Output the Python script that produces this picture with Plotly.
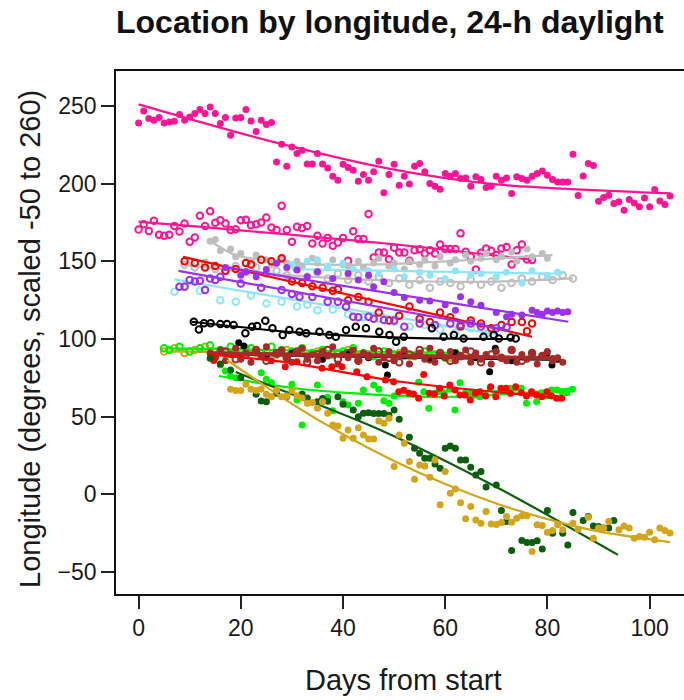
import plotly.graph_objects as go

# ---------------- data ----------------
pink_f_x = list(range(0, 105))
pink_f_y = [239.1, 246.8, 241.9, 240.8, 242.5, 239, 239.7, 240.2, 244.5, 240.8, 242.9, 245.1, 247.7, 245.1, 249.4,
            245.1, 238.7, 242.5, 231.2, 242.3, 242.5, 247.7, 240.4, 233.5, 240.8, 238, 239.3, 214, 225.4, 211.2,
            223.6, 219.4, 221.5, 212.7, 212.7, 219.4, 212.7, 210.1, 204.8, 202.2, 212.5, 210.4, 208.7, 201.6, 205.9,
            202.2, 207.6, 214.4, 194.1, 205.9, 212.5, 199, 204.8, 199.7, 211.2, 213, 207.6, 200.1, 198.4, 196.4,
            206.5, 204.8, 206.5, 203.3, 203.7, 198.4, 204.4, 202.7, 197.5, 198.4, 204.8, 202.2, 203.7, 193.7, 204.4,
            203.3, 202.2, 204.8, 206.5, 208.2, 205.4, 202.7, 201.1, 201.1, 201.1, 218.9, 192.4, 205, 213, 211.7,
            188.7, 191.1, 192.6, 187.2, 188.3, 182.9, 189.8, 187.6, 185.1, 190.8, 185.1, 196.3, 188.9, 186.6, 192.1]
pink_f_fit_x = [0, 25, 50, 70, 104]
pink_f_fit_y = [251, 228, 209, 199.5, 193.7]

pink_o_x = list(range(0, 78))
pink_o_y = [170.5, 173.9, 169.6, 176.1, 167.1, 166.4, 167.1, 172.8, 169.2, 174.4, 162.6, 165.4, 179.3, 172.8, 182.3,
            174.8, 176.5, 174.4, 170.1, 170.7, 176.5, 176.7, 173.3, 173.9, 175, 178.2, 171.8, 170.1, 185.7, 170.1,
            162.6, 172.2, 171.4, 172.8, 161.5, 166.4, 161.5, 165.1, 160, 162.2, 165.1, 150.3, 169.4, 164.3, 164.3,
            180.4, 152.5, 155.7, 155.7, 151.4, 158.7, 155.7, 155.7, 150.3, 157.2, 157.7, 155.1, 157.2, 155.1, 160.9,
            157.9, 157.9, 157.9, 168, 156.1, 152.9, 144.8, 155.5, 158.3, 156.8, 154, 158.3, 159.3, 148, 157.2, 160.9,
            151.2, 150.8]
pink_o_fit_x = [0, 50, 77]
pink_o_fit_y = [175.5, 161, 151]

gray_f_x = [14, 15, 16, 18, 19, 20, 22, 23, 25, 26, 28, 29, 31, 32, 34, 35, 37, 38, 40, 41, 43, 44, 46, 47, 49, 50,
            52, 53, 55, 56, 58, 59, 61, 62, 64, 65, 67, 68, 70, 71, 73, 74, 76, 77, 79, 80]
gray_f_y = [163, 164, 157, 158, 153, 155, 150, 154, 151, 148, 152, 149, 150, 147, 152, 149, 146, 151, 148, 147, 150,
            146, 149, 152, 147, 149, 145, 150, 148, 151, 147, 153, 149, 151, 154, 150, 152, 155, 151, 153, 156, 150,
            158, 153, 155, 152]
gray_f_fit_x = [13.7, 19, 25, 35, 47, 60, 81]
gray_f_fit_y = [163.6, 154, 150.5, 148, 148, 150, 154]

gray_o_x = [9, 11, 13, 15, 17, 19, 21, 23, 25, 27, 29, 31, 33, 35, 37, 39, 41, 43, 45, 47, 49, 51, 53, 55, 57, 59,
            61, 63, 65, 67, 69, 71, 73, 75, 77, 79, 81, 83, 85]
gray_o_y = [148, 146, 149, 145, 144, 147, 143, 146, 142, 144, 141, 145, 140, 143, 139, 142, 138, 141, 137, 140, 136,
            139, 135, 138, 133, 137, 136, 134, 138, 135, 137, 133, 136, 139, 137, 140, 138, 141, 139]
gray_o_fit_x = [9, 30, 50, 70, 85]
gray_o_fit_y = [147.6, 141, 137.5, 137, 139]

cyan_f_x = [30, 33, 35, 37, 40, 42, 45, 47, 50, 52, 55, 57, 60, 62, 65, 67, 70, 72, 75, 77, 80, 82]
cyan_f_y = [148, 150, 151, 147, 149, 145, 144, 142, 145, 140, 143, 141, 139, 144, 141, 142, 140, 143, 136, 144, 141, 143]
cyan_f_fit_x = [30, 83]
cyan_f_fit_y = [145, 142]

cyan_o_x = [7, 9, 12, 16, 19, 22, 25, 28, 31, 33, 35, 38, 41, 44, 47, 50, 53, 56, 59, 62, 65, 68]
cyan_o_y = [130.4, 134, 131, 125, 124, 128, 122.9, 124, 121, 122, 118.6, 119, 116, 114, 113, 111, 108, 109, 106, 104, 107, 103]
cyan_o_fit_x = [7, 70]
cyan_o_fit_y = [138.4, 103]

red_o_x = [9, 11, 13, 15, 17, 19, 21, 22, 24, 26, 28, 30, 32, 34, 36, 38, 39, 41, 43, 45, 47, 49, 51, 53, 55, 57,
           59, 61, 63, 65, 67, 69, 71, 73, 75, 76, 77]
red_o_y = [150, 149, 146, 147, 144, 145, 149, 148, 151, 150, 152, 137, 136, 134, 133, 131, 132, 125, 127, 124, 117,
           112, 115, 121, 113, 111, 117, 114, 108, 112, 110, 107, 109, 111, 111, 105, 110]
red_o_fit_x = [8.7, 77]
red_o_fit_y = [152.9, 101.5]

purple_f_x = [17, 20, 21, 23, 25, 27, 29, 31, 33, 35, 38, 41, 43, 45, 46, 48, 50, 52, 55, 57, 60, 62, 63, 65, 67,
              70, 72, 73, 75, 77, 78, 79, 80, 81, 82, 83, 84]
purple_f_y = [146, 141.1, 143.3, 140, 144.8, 148.7, 146, 144.4, 140, 143.3, 139, 142.2, 138, 141.1, 133.6, 136.8,
              130, 126.8, 125, 124.4, 122, 118.6, 127.2, 124, 121.8, 117, 114.3, 116, 115.4, 118.6, 117, 116, 118,
              117, 118, 117, 117.5]
purple_f_fit_x = [16.6, 84.1]
purple_f_fit_y = [146.5, 111.1]

purple_o_x = [8, 9, 10, 11, 12, 13, 14, 15, 16, 20, 24, 28, 30, 31.5, 34, 37, 39, 40.6, 42, 43, 45, 46, 48, 50, 52,
              55, 58, 61, 63, 65, 67, 70, 72]
purple_o_y = [133.6, 133.6, 138, 137, 137.5, 131.5, 139, 138, 140, 135.8, 133, 131.5, 129, 127.2, 127, 124, 124,
              120.8, 114.3, 114, 114.3, 113, 112.2, 112, 107.9, 110, 109, 110, 109, 110, 108, 107, 107.5]
purple_o_fit_x = [7.8, 72.1]
purple_o_fit_y = [143.9, 105.8]

black_o_x = [10.8, 11.8, 12.8, 14.1, 16, 17.3, 18.6, 20.9, 22.2, 23.2, 24.8, 26.2, 28.2, 29.5, 31.5, 32.8, 35.4,
             37.3, 38.6, 40.6, 42.5, 44.5, 47.1, 49.1, 50.4, 51.9, 57.4, 59.7, 61.7, 63.6, 67.5, 69.5, 70.5, 72.8, 73.8]
black_o_y = [111.1, 106.2, 110.1, 110.1, 109.6, 109.6, 109, 103.7, 107.9, 108.4, 111.8, 106.9, 102.6, 105.8, 104.7,
             103.7, 104.7, 102.6, 101.5, 105.8, 107.9, 106.9, 104.7, 102.6, 98.3, 101.5, 106.9, 101.5, 102.6, 100.4,
             101.5, 102.6, 100.4, 101, 100.4]
black_o_fit_x = [10.4, 30, 51.2, 73.1]
black_o_fit_y = [111.1, 104.5, 100.9, 100]

gold_o_x = [5, 7, 9, 11, 13, 15, 17, 19, 21, 23, 25, 27, 29, 31, 33, 35, 37, 39, 41, 43, 45, 47, 49, 51, 53, 55, 57,
            59, 61, 63]
gold_o_y = [92, 94, 91, 93, 95, 92, 90, 93, 94, 91, 92, 90, 93, 91, 89, 92, 90, 91, 93, 89, 90, 92, 88, 91, 89, 90,
            87, 91, 88, 89]
gold_o_fit_x = [5.6, 65]
gold_o_fit_y = [92, 89.5]

green_o_x = [5, 6, 8, 10, 12, 14, 16, 18, 20, 22, 24, 26, 28, 30, 32, 34, 36, 38, 40, 42, 44, 46, 48, 50, 52, 54,
             56, 58, 60, 62]
green_o_y = [94, 93, 95, 92, 94, 96, 93, 95, 92, 94, 91, 95, 93, 92, 94, 91, 93, 90, 92, 94, 91, 89, 92, 90, 91, 89,
             92, 90, 88, 91]
green_o_fit_x = [5.6, 63]
green_o_fit_y = [94, 91]

black_f_x = [19.6, 20.6, 25, 30, 36, 41, 45, 48.3, 48.7, 52, 57, 62, 66, 68.7, 69.8, 73, 77, 79.9, 80.9, 82]
black_f_y = [97.6, 95.5, 89, 91, 87, 90, 88, 83.3, 76.8, 89, 87, 91, 88, 78.9, 94, 86, 89, 90.8, 83.3, 87]
black_f_fit_x = [19, 83]
black_f_fit_y = [90, 86.5]

brown_f_x = [14, 15, 16, 17, 18, 19, 20, 21, 22, 23, 24, 25, 26, 27, 28, 29, 30, 31, 32, 33, 34, 35, 36, 37, 38, 39,
             40, 41, 42, 43, 44, 45, 46, 47, 48, 49, 50, 51, 52, 53, 54, 55, 56, 57, 58, 59, 60, 61, 62, 63, 64, 65,
             66, 67, 68, 69, 70, 71, 72, 73, 74, 75, 76, 77, 78, 79, 80, 81, 82, 83]
brown_f_y = [91, 88, 93, 86, 90, 94, 87, 91, 85, 92, 89, 95, 86, 90, 93, 88, 85, 91, 94, 87, 90, 86, 92, 89, 95, 84,
             90, 88, 93, 86, 91, 89, 94, 85, 88, 92, 86, 90, 93, 84, 89, 91, 87, 94, 85, 90, 88, 92, 86, 89, 93, 85,
             91, 87, 90, 84, 92, 88, 86, 93, 85, 90, 87, 91, 84, 89, 92, 86, 88, 85]
brown_o_x = [15, 17, 19, 21, 23, 25, 27, 29, 31, 33, 35, 37, 39, 41, 43, 45, 47, 49, 51, 53, 55, 57, 59, 61, 63, 65,
             67, 69, 71, 73, 75, 77, 79, 81]
brown_o_y = [89, 92, 87, 90, 93, 86, 91, 88, 92, 85, 90, 93, 87, 91, 86, 89, 92, 88, 85, 90, 93, 87, 91, 86, 89, 92,
             85, 90, 88, 93, 86, 91, 89, 87]
brown_fit_x = [13.4, 82.2]
brown_fit_y = [90.8, 87.6]

green_f_x = [16, 17, 18, 19, 24, 25, 26, 30, 31, 32, 35, 37, 38, 40, 41, 43, 44, 46, 47, 48, 49, 50, 54.8, 55.8,
             56.8, 57.9, 58.9, 59.8, 60.9, 61.9, 62.9, 63.9, 64.9, 65.9, 66.8, 67.9, 68.8, 69.9, 70.9, 71.9, 72.8,
             73.8, 74.9, 75.9, 76.9, 77.9, 78.9, 79.9, 80.8, 81.9, 82.8, 83.8, 84.9]
green_f_y = [83.3, 79.4, 76, 75, 78.3, 74.1, 71.9, 70.9, 60.8, 44.7, 70.4, 62.5, 53.9, 59.7, 57.6, 58.6, 67.2, 70.4,
             67.7, 60.3, 58.6, 63.4, 72.2, 66.1, 55.4, 65.1, 66.1, 65.5, 67.7, 54.3, 71.9, 65.1, 65.1, 64, 62.9, 64,
             68.3, 65.1, 66.1, 67.2, 68.3, 68.3, 68.3, 58.7, 65.5, 59.7, 65.5, 63.3, 67.2, 67.2, 66.1, 65.5, 67.7]
green_f_fit_x = [15.7, 30, 51.2, 60, 70, 85.1]
green_f_fit_y = [76.2, 68.5, 63.2, 62.7, 64, 68.3]

red_f_x = [14.7, 28.7, 31, 35.9, 37.8, 39.8, 42.7, 44.7, 48.3, 49.9, 50.9, 51.9, 52.9, 53.8, 54.8, 55.8, 56.9, 57.9,
           58.9, 59.8, 60.9, 61.9, 62.9, 63.9, 64.9, 65.9, 66.8, 67.9, 68.9, 69.9, 70.9, 71.9, 72.8, 73.8, 74.9, 75.9,
           76.9, 77.9, 78.9, 79.9, 80.8, 81.8, 82.8]
red_f_y = [86.1, 82.2, 85.4, 81.2, 82.2, 82.2, 79, 75.8, 73.6, 72.5, 66.1, 67, 65.1, 64.6, 61.9, 77.2, 65.1, 64.6,
           68.3, 63.3, 70.4, 67.2, 64, 64, 60.8, 65.1, 66.1, 63.3, 69.3, 62.9, 68.3, 68.3, 65.1, 69.3, 65.5, 63.3,
           66.1, 64, 62.9, 66.1, 63.3, 61.9, 61.9]
red_f_fit_x = [14, 28.1, 51.2, 82.9]
red_f_fit_y = [90, 85.4, 72.5, 61.9]

dgreen_x = [14, 16, 18, 20, 23, 24, 25, 27, 29, 32, 33, 35, 36, 37, 39, 40, 42, 43, 44, 45, 46, 47, 48, 49, 50, 51,
            53, 54, 55, 56, 57, 58, 59, 60, 61, 62, 63, 64, 65, 66, 67, 68, 70, 71, 72, 73, 75, 76, 77, 78, 79, 80,
            81, 83, 84, 85, 87, 88, 89, 90, 91, 92, 93]
dgreen_y = [87.6, 84, 80, 75, 64.4, 60.1, 59.7, 65.1, 63, 64.6, 62, 59.7, 61.8, 60, 62.9, 58, 54.3, 50, 52.2, 52.6,
            52, 52, 52, 51, 54.3, 48.3, 36.8, 29.7, 26.5, 23.3, 23.3, 19.6, 16.9, 29.7, 31.2, 29.7, 22.2, 22.2, 17.5,
            12.5, 14.7, 4.7, 6.1, -10.4, -17.5, -36.1, -29.7, -31, -31, -29.9, -35.2, -10.4, -25, -25, -32.5, -11.7,
            -16.8, -14.3, -20.3, -20.7, -21.7, -21.7, -16.8]
dgreen_fit_x = [19, 23.8, 47.3, 70.1, 93.8]
dgreen_fit_y = [78.8, 72.5, 41.5, 4.6, -38.9]

gold_f_x = [18, 19, 20, 21, 22, 23, 24, 25, 26, 27, 28, 29, 30, 31, 32, 33, 34, 35, 36, 37, 38, 39, 40, 41, 42, 43,
            44, 45, 46, 47, 48, 49, 50, 51, 52, 53, 54, 55, 56, 57, 58, 59, 60, 61, 62, 63, 64, 65, 66, 67, 68, 69,
            70, 71, 72, 73, 74, 75, 76, 77, 78, 79, 80, 81, 82, 83, 85, 86, 88, 89, 90, 91, 92, 94, 95, 96, 97, 98,
            99, 100, 101, 102, 103, 104]
gold_f_y = [67.7, 66.8, 66.8, 70.9, 67.7, 66.8, 67.8, 64.4, 62.9, 67.2, 62.9, 63.3, 66.8, 63.5, 62, 58.7, 59.1, 55.4,
            59.7, 52.2, 44.7, 44, 36.2, 41.5, 36.2, 42.9, 38.3, 35.7, 35.7, 47.3, 45.8, 49, 17.9, 38.3, 32.9, 21.1,
            9.8, 18.9, 18.3, 11, 22.2, -6.7, 14.7, 0.8, 3.4, -5.3, -15.7, -7.8, -16.4, -18.5, -11, -19, -19.4, -18.1,
            -14.3, -17.9, -15.3, -13.8, -13.8, -36.8, -19.6, -20, -24.3, -23.3, -19.6, -22.8, -18.5, -22.4, -14.7,
            -28.2, -21.7, -21.7, -17.5, -22.8, -20.3, -21.7, -28.2, -27.1, -27.5, -24.3, -29.2, -21.7, -23.3, -24.9]
gold_f_fit_x = [17.3, 30, 40, 50, 60, 70, 80, 90, 104]
gold_f_fit_y = [86.5, 58.3, 38.7, 21.5, 6.7, -5.8, -15.9, -23.8, -30.7]

x_ticks = [0, 20, 40, 60, 80, 100]
y_ticks = [-50, 0, 50, 100, 150, 200, 250]

C = dict(pink="#FF1493", gray="#BEBEBE", cyan="#8EE5F5", red="#FF0000", purple="#9B30EE", black="#000000",
         brown="#A52A2A", gold="#D4A518", green="#00EE00", dgreen="#0B5E0B")

fig = go.Figure()


def pts(x, y, col, filled=True):
    if filled:
        m = dict(size=7, color=col, line=dict(width=0))
    else:
        m = dict(size=6.5, color=col, symbol="circle-open", line=dict(width=2))
    fig.add_trace(go.Scatter(x=x, y=y, mode="markers", marker=m, hoverinfo="skip"))


def fit(x, y, col, w=2.2):
    fig.add_trace(go.Scatter(x=x, y=y, mode="lines", line=dict(color=col, width=w, shape="spline", smoothing=0.8),
                             hoverinfo="skip"))


pts(pink_f_x, pink_f_y, C["pink"]); fit(pink_f_fit_x, pink_f_fit_y, C["pink"])
pts(pink_o_x, pink_o_y, C["pink"], False); fit(pink_o_fit_x, pink_o_fit_y, C["pink"])
pts(gray_o_x, gray_o_y, C["gray"], False); fit(gray_o_fit_x, gray_o_fit_y, C["gray"])
pts(gray_f_x, gray_f_y, C["gray"]); fit(gray_f_fit_x, gray_f_fit_y, C["gray"])
pts(cyan_f_x, cyan_f_y, C["cyan"]); fit(cyan_f_fit_x, cyan_f_fit_y, C["cyan"])
pts(cyan_o_x, cyan_o_y, C["cyan"], False); fit(cyan_o_fit_x, cyan_o_fit_y, C["cyan"])
pts(red_o_x, red_o_y, C["red"], False); fit(red_o_fit_x, red_o_fit_y, C["red"])
pts(purple_f_x, purple_f_y, C["purple"]); fit(purple_f_fit_x, purple_f_fit_y, C["purple"])
pts(purple_o_x, purple_o_y, C["purple"], False); fit(purple_o_fit_x, purple_o_fit_y, C["purple"])
pts(black_o_x, black_o_y, C["black"], False); fit(black_o_fit_x, black_o_fit_y, C["black"])
pts(gold_o_x, gold_o_y, C["gold"], False); fit(gold_o_fit_x, gold_o_fit_y, C["gold"])
pts(green_o_x, green_o_y, C["green"], False); fit(green_o_fit_x, green_o_fit_y, C["green"])
pts(black_f_x, black_f_y, C["black"]); fit(black_f_fit_x, black_f_fit_y, C["black"])
pts(brown_f_x, brown_f_y, C["brown"]); pts(brown_o_x, brown_o_y, C["brown"], False)
fit(brown_fit_x, brown_fit_y, C["brown"], 4)
pts(green_f_x, green_f_y, C["green"]); fit(green_f_fit_x, green_f_fit_y, C["green"])
pts(red_f_x, red_f_y, C["red"]); fit(red_f_fit_x, red_f_fit_y, C["red"])
pts(dgreen_x, dgreen_y, C["dgreen"]); fit(dgreen_fit_x, dgreen_fit_y, C["dgreen"])
pts(gold_f_x, gold_f_y, C["gold"]); fit(gold_f_fit_x, gold_f_fit_y, C["gold"])

FONT = "Liberation Sans, Arial, sans-serif"
W, H, L, T, B = 684, 700, 116, 71, 106
pw, ph = W - L, H - T - B


def px(xp):
    return (xp - L) / pw


def py(yp):
    return (H - B - yp) / ph


axis_common = dict(showline=True, linecolor="#111", linewidth=1.6, ticks="outside", ticklen=13, tickwidth=1.6,
                   tickcolor="#222", showgrid=False, zeroline=False,
                   tickfont=dict(family=FONT, size=23, color="#1a1a1a"))
fig.update_layout(
    width=W, height=H, margin=dict(l=L, r=0, t=T, b=B, pad=0),
    plot_bgcolor="white", paper_bgcolor="white", showlegend=False,
    xaxis=dict(range=[-4.42, 106.73], tickvals=x_ticks, mirror=True, **axis_common),
    yaxis=dict(range=[-64.1, 272.5], tickvals=y_ticks, mirror=False, **axis_common),
    annotations=[
        dict(text="<b>Location by longitude, 24-h daylight</b>", x=px(389.5), y=py(22), xref="paper", yref="paper",
             showarrow=False, xanchor="center", yanchor="middle", font=dict(family=FONT, size=32, color="#111")),
        dict(text="Days from start", x=px(403), y=py(680), xref="paper", yref="paper", showarrow=False,
             xanchor="center", yanchor="middle", font=dict(family=FONT, size=29, color="#1a1a1a")),
        dict(text="Longitude (degrees, scaled -50 to 260)", x=px(30), y=py(339), xref="paper", yref="paper",
             showarrow=False, textangle=-90, xanchor="center", yanchor="middle",
             font=dict(family=FONT, size=29, color="#1a1a1a")),
    ],
)
fig.write_html("out.html", config={"displayModeBar": False},
               post_script="document.body.style.margin='0';document.body.style.overflow='hidden';")
